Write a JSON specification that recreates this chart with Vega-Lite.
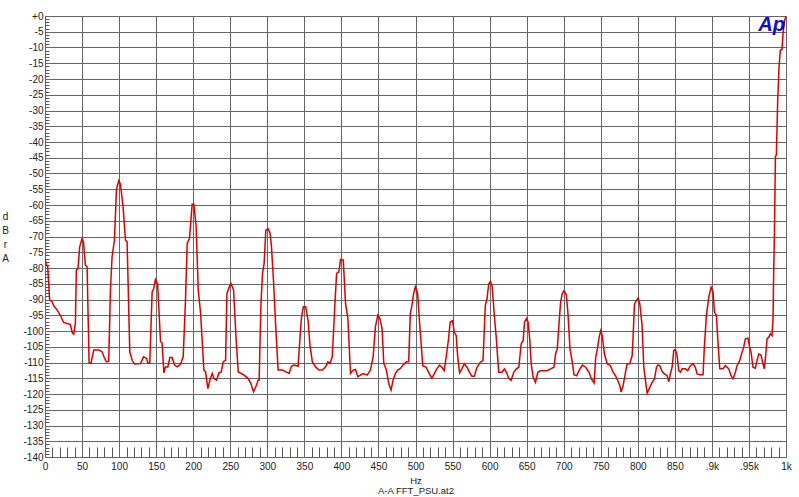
{
  "$schema": "https://vega.github.io/schema/vega-lite/v6.json",
  "width": 741,
  "height": 441,
  "autosize": {"type": "none"},
  "padding": {"left": 45, "top": 16, "right": 13, "bottom": 40},
  "background": "white",
  "config": {
    "view": {"stroke": "#777", "strokeWidth": 1},
    "font": "Liberation Sans Narrow, Liberation Sans, Arial"
  },
  "title": {
    "text": "Ap",
    "anchor": "end",
    "frame": "group",
    "orient": "top",
    "offset": -17,
    "dy": 23,
    "baseline": "alphabetic",
    "dx": -1,
    "font": "Liberation Sans",
    "fontSize": 20,
    "fontStyle": "italic",
    "fontWeight": "bold",
    "color": "#0a0ae6"
  },
  "data": {
    "values": [
      {"hz": 0, "db": -77.2}, {"hz": 2, "db": -79.1}, {"hz": 3.6, "db": -79.4}, {"hz": 6.3, "db": -90.2},
      {"hz": 9.5, "db": -90.7}, {"hz": 12.6, "db": -92.3}, {"hz": 16, "db": -93.2}, {"hz": 20.7, "db": -95},
      {"hz": 25, "db": -97.3}, {"hz": 29.7, "db": -97.6}, {"hz": 34, "db": -97.9}, {"hz": 37, "db": -100.6},
      {"hz": 38.7, "db": -101}, {"hz": 41, "db": -97.6}, {"hz": 42.3, "db": -80.7}, {"hz": 44.6, "db": -80.2},
      {"hz": 46.8, "db": -73.3}, {"hz": 50, "db": -70.6}, {"hz": 52, "db": -71.7}, {"hz": 54.5, "db": -79.1},
      {"hz": 56.8, "db": -79.6}, {"hz": 59.5, "db": -110.1}, {"hz": 62, "db": -110.3}, {"hz": 65.8, "db": -106},
      {"hz": 72.5, "db": -106}, {"hz": 77, "db": -106.6}, {"hz": 80, "db": -108.4}, {"hz": 82.9, "db": -109.8},
      {"hz": 86, "db": -109.6}, {"hz": 88.3, "db": -87}, {"hz": 90.5, "db": -76.5}, {"hz": 93.7, "db": -71.2},
      {"hz": 96.4, "db": -55.1}, {"hz": 99.5, "db": -52.3}, {"hz": 101.8, "db": -53.4}, {"hz": 105.4, "db": -60.6},
      {"hz": 108.6, "db": -71.2}, {"hz": 110.8, "db": -71.7}, {"hz": 114.4, "db": -106.6}, {"hz": 117.6, "db": -109.3},
      {"hz": 120.7, "db": -110.5}, {"hz": 128.8, "db": -110.3}, {"hz": 133, "db": -108.2}, {"hz": 137, "db": -108.7},
      {"hz": 138.7, "db": -110.1}, {"hz": 141.4, "db": -110.1}, {"hz": 144.6, "db": -87.6}, {"hz": 146.8, "db": -86.5},
      {"hz": 149, "db": -83.7}, {"hz": 152, "db": -85.1}, {"hz": 155.9, "db": -103.4}, {"hz": 158, "db": -103.8},
      {"hz": 160.4, "db": -113.3}, {"hz": 162.6, "db": -111.4}, {"hz": 165.8, "db": -111.4}, {"hz": 168.5, "db": -108.4},
      {"hz": 171.6, "db": -108.4}, {"hz": 174.8, "db": -110.8}, {"hz": 178.4, "db": -111.4}, {"hz": 182.9, "db": -110.5},
      {"hz": 186.5, "db": -108.2}, {"hz": 189.6, "db": -90.2}, {"hz": 191.9, "db": -72.2}, {"hz": 195, "db": -70.6},
      {"hz": 198.6, "db": -59.8}, {"hz": 200.9, "db": -59.8}, {"hz": 204, "db": -66.9}, {"hz": 206.8, "db": -87},
      {"hz": 210, "db": -94.4}, {"hz": 214.4, "db": -112.4}, {"hz": 216.7, "db": -113}, {"hz": 219.8, "db": -118.3},
      {"hz": 222.5, "db": -115.6}, {"hz": 225.7, "db": -113.5}, {"hz": 228, "db": -115.1}, {"hz": 231.5, "db": -115.6},
      {"hz": 234.7, "db": -113.3}, {"hz": 237.8, "db": -113}, {"hz": 240.5, "db": -109.8}, {"hz": 243.7, "db": -109.3},
      {"hz": 245.5, "db": -88.1}, {"hz": 248.7, "db": -86}, {"hz": 250.9, "db": -84.9}, {"hz": 254.5, "db": -87},
      {"hz": 257.6, "db": -101.3}, {"hz": 260.8, "db": -113}, {"hz": 268.8, "db": -114}, {"hz": 274.2, "db": -115.1},
      {"hz": 277.8, "db": -116.7}, {"hz": 281.4, "db": -119.3}, {"hz": 284.5, "db": -117.7}, {"hz": 287.7, "db": -115.6},
      {"hz": 289, "db": -115.6}, {"hz": 291.3, "db": -92.3}, {"hz": 293.5, "db": -81.7}, {"hz": 295.7, "db": -78.6},
      {"hz": 298, "db": -68}, {"hz": 301.1, "db": -67.5}, {"hz": 303.8, "db": -69}, {"hz": 305.6, "db": -73.1},
      {"hz": 308.3, "db": -83.9}, {"hz": 311.4, "db": -98.7}, {"hz": 314.6, "db": -112.4}, {"hz": 320.4, "db": -112.4},
      {"hz": 324.9, "db": -113}, {"hz": 329.4, "db": -113.5}, {"hz": 332.5, "db": -111.2}, {"hz": 336.1, "db": -110.8},
      {"hz": 341.5, "db": -111.2}, {"hz": 344.2, "db": -101.9}, {"hz": 346, "db": -96}, {"hz": 348.7, "db": -92.3},
      {"hz": 351.8, "db": -92.3}, {"hz": 355, "db": -96.6}, {"hz": 357.6, "db": -104.5}, {"hz": 360.8, "db": -109.8},
      {"hz": 365.2, "db": -111.4}, {"hz": 369.7, "db": -112.4}, {"hz": 374.2, "db": -112.4}, {"hz": 378.7, "db": -111.4},
      {"hz": 381.8, "db": -109.8}, {"hz": 384.5, "db": -110.3}, {"hz": 387.7, "db": -108.2}, {"hz": 390.8, "db": -93.4},
      {"hz": 393.5, "db": -81.7}, {"hz": 396.6, "db": -81.2}, {"hz": 398.9, "db": -77.3}, {"hz": 402.5, "db": -77.5},
      {"hz": 405.6, "db": -91.3}, {"hz": 408.7, "db": -96}, {"hz": 412.3, "db": -113.5}, {"hz": 415.9, "db": -112.4},
      {"hz": 419, "db": -112.2}, {"hz": 422.2, "db": -114.5}, {"hz": 425.8, "db": -114}, {"hz": 429.4, "db": -113.5},
      {"hz": 434.7, "db": -114}, {"hz": 439.2, "db": -112.4}, {"hz": 442.8, "db": -108.2}, {"hz": 445.9, "db": -98.7},
      {"hz": 449.1, "db": -95}, {"hz": 451.8, "db": -96}, {"hz": 454.9, "db": -99.2}, {"hz": 457.2, "db": -110.3},
      {"hz": 460.7, "db": -112.4}, {"hz": 463.9, "db": -116.7}, {"hz": 467, "db": -118.8}, {"hz": 469.7, "db": -115.6},
      {"hz": 472.9, "db": -113.5}, {"hz": 476, "db": -112.4}, {"hz": 479.6, "db": -111.9}, {"hz": 483.2, "db": -110.8},
      {"hz": 487.7, "db": -109.8}, {"hz": 490.8, "db": -109.8}, {"hz": 493, "db": -94.4}, {"hz": 495.3, "db": -91.8},
      {"hz": 497.5, "db": -88.1}, {"hz": 499.8, "db": -86}, {"hz": 502.9, "db": -88.1}, {"hz": 505.6, "db": -97.6},
      {"hz": 509.8, "db": -111}, {"hz": 514.3, "db": -111.5}, {"hz": 518.8, "db": -113.6}, {"hz": 522, "db": -115},
      {"hz": 525.2, "db": -113.6}, {"hz": 528.8, "db": -112}, {"hz": 532.4, "db": -110.8}, {"hz": 535.6, "db": -111.5},
      {"hz": 538.7, "db": -112.6}, {"hz": 541.4, "db": -108.3}, {"hz": 544.6, "db": -102.5}, {"hz": 546.8, "db": -97.2},
      {"hz": 550, "db": -96.7}, {"hz": 552.3, "db": -100.4}, {"hz": 555, "db": -101.5}, {"hz": 556.8, "db": -107.8},
      {"hz": 559.5, "db": -113.3}, {"hz": 562.6, "db": -112}, {"hz": 565.8, "db": -110.4}, {"hz": 569.4, "db": -111.5},
      {"hz": 573, "db": -113.1}, {"hz": 576.2, "db": -114.4}, {"hz": 579.3, "db": -114.4}, {"hz": 583, "db": -111.5},
      {"hz": 587.5, "db": -109.9}, {"hz": 591.1, "db": -109.4}, {"hz": 594.2, "db": -91.9}, {"hz": 596.5, "db": -89.8},
      {"hz": 598.8, "db": -85.1}, {"hz": 601, "db": -84.3}, {"hz": 603.3, "db": -85.6}, {"hz": 606.4, "db": -95.1},
      {"hz": 609.1, "db": -102.5}, {"hz": 612.3, "db": -113.1}, {"hz": 616.8, "db": -113.1}, {"hz": 620, "db": -112},
      {"hz": 622.7, "db": -113.1}, {"hz": 625.8, "db": -115}, {"hz": 629, "db": -115.7}, {"hz": 632.6, "db": -113.1},
      {"hz": 636.2, "db": -112}, {"hz": 639.4, "db": -111.5}, {"hz": 642.6, "db": -104.1}, {"hz": 645.3, "db": -103},
      {"hz": 647.1, "db": -97.2}, {"hz": 649.8, "db": -96}, {"hz": 652, "db": -97.2}, {"hz": 654.3, "db": -103},
      {"hz": 656.1, "db": -110.4}, {"hz": 658.8, "db": -114.7}, {"hz": 661.9, "db": -116.3}, {"hz": 665.1, "db": -113.1},
      {"hz": 668.7, "db": -112.6}, {"hz": 673.3, "db": -112.6}, {"hz": 677.8, "db": -112.6}, {"hz": 682.3, "db": -112},
      {"hz": 686.8, "db": -111.5}, {"hz": 689, "db": -107.3}, {"hz": 691.3, "db": -105.7}, {"hz": 693.5, "db": -98.3},
      {"hz": 695.8, "db": -90.9}, {"hz": 698, "db": -88.2}, {"hz": 700.3, "db": -87.2}, {"hz": 703.5, "db": -88.5},
      {"hz": 705.8, "db": -94.6}, {"hz": 708.5, "db": -105.7}, {"hz": 711.6, "db": -109.9}, {"hz": 713.9, "db": -113.9},
      {"hz": 717.5, "db": -114.2}, {"hz": 720.7, "db": -112.6}, {"hz": 725.2, "db": -110.8}, {"hz": 729.7, "db": -111.5},
      {"hz": 734.2, "db": -113.1}, {"hz": 737.4, "db": -115.2}, {"hz": 741, "db": -116.5}, {"hz": 743.2, "db": -108.3},
      {"hz": 745.5, "db": -105.7}, {"hz": 747.8, "db": -102}, {"hz": 750, "db": -99.9}, {"hz": 752, "db": -101.5},
      {"hz": 755, "db": -107.3}, {"hz": 758.7, "db": -110.4}, {"hz": 763.1, "db": -111}, {"hz": 766.7, "db": -113.1},
      {"hz": 769.9, "db": -114.2}, {"hz": 773, "db": -115.7}, {"hz": 775.7, "db": -117.3}, {"hz": 777.5, "db": -119.4},
      {"hz": 780.2, "db": -117.3}, {"hz": 783.4, "db": -113.1}, {"hz": 785.6, "db": -110.4}, {"hz": 789.2, "db": -110.4},
      {"hz": 792.4, "db": -107.8}, {"hz": 793.7, "db": -101.5}, {"hz": 795.5, "db": -91.4}, {"hz": 798.2, "db": -90.3},
      {"hz": 800.4, "db": -89.6}, {"hz": 802.7, "db": -91.4}, {"hz": 805.8, "db": -98.3}, {"hz": 808.1, "db": -111.5},
      {"hz": 810.3, "db": -115.7}, {"hz": 812.6, "db": -119.7}, {"hz": 816.2, "db": -117.9}, {"hz": 819.3, "db": -116.3},
      {"hz": 822.5, "db": -115.2}, {"hz": 825.2, "db": -111.5}, {"hz": 827, "db": -110.8}, {"hz": 829.7, "db": -111},
      {"hz": 832.8, "db": -112.9}, {"hz": 836, "db": -113.6}, {"hz": 839.5, "db": -114.2}, {"hz": 841.8, "db": -116.1},
      {"hz": 844, "db": -113.6}, {"hz": 846.3, "db": -111.5}, {"hz": 848.5, "db": -106.2}, {"hz": 850.8, "db": -105.9},
      {"hz": 853, "db": -107.8}, {"hz": 855.3, "db": -112.6}, {"hz": 857.5, "db": -113.1}, {"hz": 859.8, "db": -112},
      {"hz": 864.3, "db": -112}, {"hz": 867.4, "db": -112.6}, {"hz": 871, "db": -111}, {"hz": 874.6, "db": -110.4},
      {"hz": 877.7, "db": -111.5}, {"hz": 880, "db": -113.6}, {"hz": 883.6, "db": -113.9}, {"hz": 888.1, "db": -113.9},
      {"hz": 889.9, "db": -104.6}, {"hz": 892.6, "db": -95.1}, {"hz": 895.7, "db": -89.3}, {"hz": 898.9, "db": -86.1},
      {"hz": 901.6, "db": -87.7}, {"hz": 903.4, "db": -94}, {"hz": 906.1, "db": -95.1}, {"hz": 907.9, "db": -102.5},
      {"hz": 910.6, "db": -112}, {"hz": 915, "db": -112}, {"hz": 918.2, "db": -111}, {"hz": 922.7, "db": -112},
      {"hz": 925.8, "db": -114.2}, {"hz": 928.5, "db": -115.2}, {"hz": 931.7, "db": -113.1}, {"hz": 933.9, "db": -111},
      {"hz": 937.5, "db": -109.4}, {"hz": 940.7, "db": -106.7}, {"hz": 942.9, "db": -105.2}, {"hz": 945.2, "db": -102.5},
      {"hz": 948.7, "db": -102.3}, {"hz": 951, "db": -105.2}, {"hz": 952.8, "db": -106.7}, {"hz": 955.5, "db": -111.5},
      {"hz": 958.6, "db": -111.8}, {"hz": 960.9, "db": -109.4}, {"hz": 963.1, "db": -107.3}, {"hz": 966.3, "db": -107.6},
      {"hz": 968.5, "db": -110}, {"hz": 970.8, "db": -112}, {"hz": 973, "db": -106.7}, {"hz": 974.4, "db": -102.5},
      {"hz": 976.6, "db": -102}, {"hz": 978.9, "db": -100.9}, {"hz": 981.1, "db": -101.5}, {"hz": 982.5, "db": -96.2},
      {"hz": 983.4, "db": -81.3}, {"hz": 984.4, "db": -69}, {"hz": 985.7, "db": -44.7}, {"hz": 987, "db": -44.1},
      {"hz": 988.8, "db": -26.7}, {"hz": 990.6, "db": -16.1}, {"hz": 992.4, "db": -10.8}, {"hz": 994.6, "db": -10.6},
      {"hz": 996, "db": -5.5}, {"hz": 998.2, "db": -1.3}, {"hz": 1000, "db": 0}
    ]
  },
  "mark": {"type": "line", "color": "#dd0000", "strokeWidth": 1.5, "clip": true},
  "encoding": {
    "x": {
      "field": "hz",
      "type": "quantitative",
      "scale": {"domain": [0, 1000], "nice": false, "zero": false},
      "axis": {
        "tickCount": 100,
        "domain": false,
        "grid": true,
        "gridColor": "#666",
        "gridWidth": 1,
        "gridOpacity": {"condition": {"test": "datum.value % 50 === 0", "value": 1}, "value": 0},
        "ticks": true,
        "tickColor": "#555",
        "tickWidth": 1,
        "tickSize": {"condition": {"test": "datum.value % 50 === 0", "value": 0}, "value": -10},
        "labelExpr": "datum.value % 50 !== 0 ? '' : datum.value === 900 ? '.9k' : datum.value === 950 ? '.95k' : datum.value === 1000 ? '1k' : '' + datum.value",
        "labelOverlap": false,
        "labelFlush": false,
        "labelBound": false,
        "labelPadding": 4,
        "labelFontSize": 10,
        "labelColor": "#222",
        "title": ["Hz", "A-A FFT_PSU.at2"],
        "titleFontSize": 9.5,
        "titleFontWeight": "normal",
        "titleColor": "#222",
        "titleBaseline": "top",
        "titleY": 18,
        "titleLineHeight": 10.5
      }
    },
    "y": {
      "field": "db",
      "type": "quantitative",
      "scale": {"domain": [-140, 0], "nice": false, "zero": false},
      "axis": {
        "tickCount": 140,
        "domain": false,
        "grid": true,
        "gridColor": "#666",
        "gridWidth": 1,
        "gridOpacity": {"condition": {"test": "datum.value % 5 === 0", "value": 1}, "value": 0},
        "ticks": true,
        "tickColor": "#555",
        "tickWidth": 1,
        "tickSize": {"condition": {"test": "datum.value % 5 === 0", "value": 0}, "value": -4},
        "labelExpr": "datum.value % 5 !== 0 ? '' : datum.value === 0 ? '+0' : '-' + (-datum.value)",
        "labelOverlap": false,
        "labelFlush": false,
        "labelBound": false,
        "labelPadding": 2,
        "labelFontSize": 10,
        "labelColor": "#222",
        "title": ["d", "B", "r", "A"],
        "titleAngle": 0,
        "titleAlign": "center",
        "titleBaseline": "alphabetic",
        "titleX": -40,
        "titleY": 203.5,
        "titleLineHeight": 14,
        "titleFontSize": 10,
        "titleFontWeight": "normal",
        "titleColor": "#222"
      }
    }
  }
}
